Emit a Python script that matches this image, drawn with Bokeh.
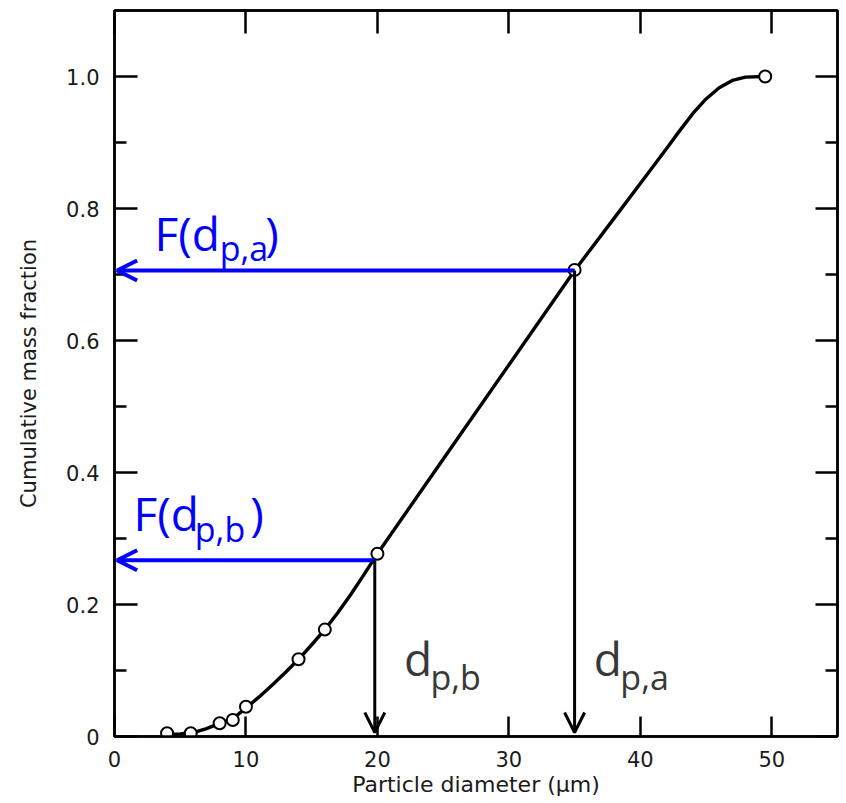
from bokeh.plotting import figure
from bokeh.models import Range1d, LinearAxis, FixedTicker, Arrow, OpenHead, Label
from bokeh.embed import file_html
from bokeh.resources import INLINE

# ---- data ----
curve_x = [4, 5, 6, 7, 8, 9, 10, 11, 12, 13, 14, 15, 16, 17, 18, 19, 20,
           25, 30, 35, 38, 40, 42, 43, 44, 45, 46, 47, 48, 49.5]
curve_y = [0.003, 0.004, 0.006, 0.012, 0.020, 0.027, 0.043, 0.060, 0.078,
           0.097, 0.117, 0.139, 0.162, 0.188, 0.216, 0.246, 0.277,
           0.420, 0.563, 0.706, 0.785, 0.838, 0.891, 0.918, 0.944, 0.966,
           0.983, 0.994, 0.999, 1.0]
point_x = [4, 5.8, 8, 9, 10, 14, 16, 20, 35, 49.5]
point_y = [0.005, 0.005, 0.020, 0.025, 0.045, 0.117, 0.162, 0.277, 0.707, 1.0]

x_ticks = [0, 10, 20, 30, 40, 50]
x_tick_labels = ["0", "10", "20", "30", "40", "50"]
y_ticks = [0, 0.2, 0.4, 0.6, 0.8, 1.0]
y_tick_labels = ["0", "0.2", "0.4", "0.6", "0.8", "1.0"]
y_minor = [0.1, 0.3, 0.5, 0.7, 0.9]

dp_a, F_a = 35.0, 0.706
dp_b, F_b = 19.8, 0.267

p = figure(width=846, height=803, x_range=Range1d(0, 55), y_range=Range1d(0, 1.1),
           output_backend="svg", toolbar_location=None,
           min_border_left=114, min_border_right=9, min_border_top=10, min_border_bottom=67)
p.xgrid.visible = False
p.ygrid.visible = False
p.outline_line_color = "black"
p.outline_line_width = 2.5
p.background_fill_color = "white"

TICK_FONT = "DejaVu Sans"
TXT = "#1a1a1a"


def style(ax, major_in, minor_in, labels):
    ax.axis_line_color = "black"
    ax.axis_line_width = 2.5
    ax.major_tick_in = major_in
    ax.major_tick_out = 0
    ax.minor_tick_in = minor_in
    ax.minor_tick_out = 0
    ax.major_tick_line_width = 2.5
    ax.minor_tick_line_width = 2.5
    ax.major_tick_line_color = "black"
    ax.minor_tick_line_color = "black"
    ax.major_label_text_font = TICK_FONT
    ax.major_label_text_font_size = "21px"
    ax.major_label_text_color = TXT
    if not labels:
        ax.major_label_standoff = 0


# bottom axis
xa = p.xaxis[0]
xa.ticker = FixedTicker(ticks=x_ticks)
xa.major_label_overrides = dict(zip(x_ticks, x_tick_labels))
style(xa, 20, 0, True)
xa.major_label_standoff = 14
xa.axis_label = "Particle diameter (μm)"
xa.axis_label_text_font = TICK_FONT
xa.axis_label_text_font_size = "22px"
xa.axis_label_text_font_style = "normal"
xa.axis_label_text_color = TXT
xa.axis_label_standoff = 2

# left axis
ya = p.yaxis[0]
ya.ticker = FixedTicker(ticks=y_ticks, minor_ticks=y_minor)
ya.major_label_overrides = dict(zip(y_ticks, y_tick_labels))
style(ya, 23, 12, True)
ya.major_label_standoff = 15
ya.axis_label = "Cumulative mass fraction"
ya.axis_label_text_font = TICK_FONT
ya.axis_label_text_font_size = "21px"
ya.axis_label_text_font_style = "normal"
ya.axis_label_text_color = TXT
ya.axis_label_standoff = 22

# top axis (ticks only)
ta = LinearAxis(ticker=FixedTicker(ticks=x_ticks),
                major_label_overrides={t: "" for t in x_ticks})
style(ta, 23, 0, False)
p.add_layout(ta, "above")

# right axis (ticks only)
ra = LinearAxis(ticker=FixedTicker(ticks=y_ticks, minor_ticks=y_minor),
                major_label_overrides={t: "" for t in y_ticks})
style(ra, 22, 12, False)
p.add_layout(ra, "right")

# curve
p.line(curve_x, curve_y, line_color="black", line_width=3.4, line_join="round")

# arrows
BLUE = "#0000ff"
p.add_layout(Arrow(end=OpenHead(size=20, line_color=BLUE, line_width=4),
                   x_start=dp_a, y_start=F_a, x_end=0.2, y_end=F_a,
                   line_color=BLUE, line_width=4))
p.add_layout(Arrow(end=OpenHead(size=20, line_color=BLUE, line_width=4),
                   x_start=dp_b, y_start=F_b, x_end=0.2, y_end=F_b,
                   line_color=BLUE, line_width=4))
p.add_layout(Arrow(end=OpenHead(size=20, line_color="black", line_width=3),
                   x_start=dp_a, y_start=F_a, x_end=dp_a, y_end=0.006,
                   line_color="black", line_width=3))
p.add_layout(Arrow(end=OpenHead(size=20, line_color="black", line_width=3),
                   x_start=dp_b, y_start=F_b, x_end=dp_b, y_end=0.006,
                   line_color="black", line_width=3))

# data points
p.scatter(point_x, point_y, size=12, fill_color="white", line_color="black", line_width=2)

# annotations
ANN_FONT = "Open Sans"
GRAY = "#383838"


def lab(x, y, text, size_px, color):
    p.add_layout(Label(x=x, y=y, text=text, text_font=ANN_FONT,
                       text_font_size=f"{size_px}px",
                       text_color=color, text_baseline="alphabetic", text_align="left",
                       y_offset=round(0.43 * size_px)))


MAIN, SUB = 46, 34

lab(3.04, 0.733, "F(d", MAIN, BLUE)
lab(8.0, 0.718, "p,a", SUB, BLUE)
lab(11.47, 0.733, ")", MAIN, BLUE)

lab(1.44, 0.3076, "F(d", MAIN, BLUE)
lab(6.11, 0.292, "p,b", SUB, BLUE)
lab(10.33, 0.3076, ")", MAIN, BLUE)

lab(22.03, 0.088, "d", MAIN, GRAY)
lab(24.04, 0.067, "p,b", SUB, GRAY)
lab(36.46, 0.088, "d", MAIN, GRAY)
lab(38.48, 0.067, "p,a", SUB, GRAY)

open("out.html", "w").write(file_html(p, INLINE))
